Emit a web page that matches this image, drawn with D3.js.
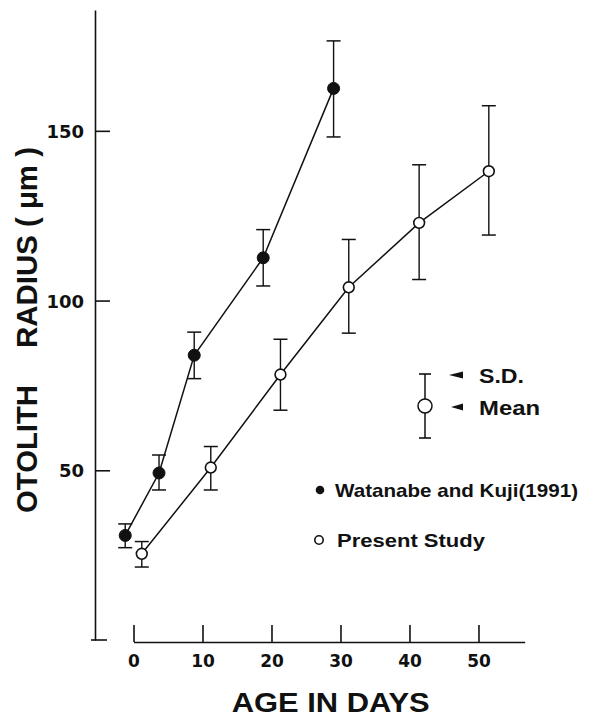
<!DOCTYPE html>
<html>
<head>
<meta charset="utf-8">
<script src="https://cdn.jsdelivr.net/npm/d3@7/dist/d3.min.js"></script>
<style>
  html, body { margin: 0; padding: 0; background: #fff; }
  svg { display: block; }
  text { fill: #111; }
</style>
</head>
<body>
<svg id="chart" width="594" height="721"></svg>
<script>
// ---- Data ----
const wkDays  = [-1.2, 3.7, 8.8, 18.8, 29.0];
const wkMean  = [30.8, 49.2, 83.9, 112.6, 162.5];
const wkUpper = [34.2, 54.5, 90.7, 120.9, 176.5];
const wkLower = [27.2, 44.2, 77.0, 104.3, 148.2];

const psDays  = [1.2, 11.2, 21.3, 31.2, 41.4, 51.5];
const psMean  = [25.4, 50.8, 78.2, 103.9, 122.9, 138.1];
const psUpper = [29.0, 57.0, 88.6, 118.0, 140.0, 157.4];
const psLower = [21.5, 44.2, 67.7, 90.4, 106.2, 119.3];

const xTicks = [0, 10, 20, 30, 40, 50];
const yTicks = [50, 100, 150];

const seriesLabels = ["Watanabe and Kuji(1991)", "Present Study"];
const xTitle = "AGE IN DAYS";
const yTitleA = "OTOLITH";
const yTitleB = "RADIUS ( \u03bcm )";

// ---- Build records ----
const wk = wkDays.map((d, i) => ({ day: d, mean: wkMean[i], hi: wkUpper[i], lo: wkLower[i] }));
const ps = psDays.map((d, i) => ({ day: d, mean: psMean[i], hi: psUpper[i], lo: psLower[i] }));

const svg = d3.select("#chart");
const sansBold = "'Liberation Sans', Arial, Helvetica, sans-serif";
const numFont = "'DejaVu Sans', 'Liberation Sans', sans-serif";

const x = d3.scaleLinear().domain([0, 56.7]).range([133.5, 524.7]);
const y = d3.scaleLinear().domain([0, 185.6]).range([640, 10]);

const yAxisX = 95;
const xAxisY = 642;

// ---- Y axis (ticks pointing inward) ----
const yAxis = d3.axisLeft(y).tickValues(yTicks).tickSizeInner(-15).tickSizeOuter(0).tickPadding(11);
const gy = svg.append("g").attr("transform", `translate(${yAxisX},0)`).call(yAxis);
gy.select(".domain").attr("stroke", "#111").attr("stroke-width", 1.6);
gy.selectAll(".tick line").attr("stroke", "#111").attr("stroke-width", 1.6);
gy.selectAll(".tick text")
  .attr("font-family", numFont).attr("font-weight", "bold").attr("font-size", 18)
  .attr("fill", "#111").attr("dy", "0.36em");
// foot at bottom of y axis
svg.append("line").attr("x1", yAxisX - 4).attr("x2", yAxisX + 12)
  .attr("y1", y(0)).attr("y2", y(0)).attr("stroke", "#111").attr("stroke-width", 1.6);

// ---- X axis (ticks pointing up) ----
const xAxis = d3.axisBottom(x).tickValues(xTicks).tickSizeInner(-17).tickSizeOuter(0).tickPadding(13);
const gx = svg.append("g").attr("transform", `translate(0,${xAxisY})`).call(xAxis);
gx.select(".domain").attr("stroke", "#111").attr("stroke-width", 1.6);
gx.selectAll(".tick line").attr("stroke", "#111").attr("stroke-width", 1.6);
gx.selectAll(".tick text")
  .attr("font-family", numFont).attr("font-weight", "bold").attr("font-size", 17)
  .attr("fill", "#111");

// ---- Axis titles ----
svg.append("text").text(xTitle)
  .attr("x", 231.7).attr("y", 712)
  .attr("font-family", sansBold).attr("font-weight", "bold").attr("font-size", 27)
  .attr("textLength", 198).attr("lengthAdjust", "spacingAndGlyphs");

svg.append("text").text(yTitleA)
  .attr("transform", "translate(37,513) rotate(-90)")
  .attr("font-family", sansBold).attr("font-weight", "bold").attr("font-size", 30)
  .attr("textLength", 128).attr("lengthAdjust", "spacingAndGlyphs");
svg.append("text").text(yTitleB)
  .attr("transform", "translate(37,348) rotate(-90)")
  .attr("font-family", sansBold).attr("font-weight", "bold").attr("font-size", 30)
  .attr("textLength", 201).attr("lengthAdjust", "spacingAndGlyphs");

// ---- Series ----
const line = d3.line().x(d => x(d.day)).y(d => y(d.mean));
const capW = 7;

function drawSeries(data, filled) {
  const g = svg.append("g");
  g.append("path").datum(data).attr("d", line)
    .attr("fill", "none").attr("stroke", "#111").attr("stroke-width", 1.5);
  const eb = g.selectAll(".eb").data(data).enter().append("g");
  eb.append("line").attr("x1", d => x(d.day)).attr("x2", d => x(d.day))
    .attr("y1", d => y(d.hi)).attr("y2", d => y(d.lo))
    .attr("stroke", "#111").attr("stroke-width", 1.4);
  eb.append("line").attr("x1", d => x(d.day) - capW).attr("x2", d => x(d.day) + capW)
    .attr("y1", d => y(d.hi)).attr("y2", d => y(d.hi))
    .attr("stroke", "#111").attr("stroke-width", 1.5);
  eb.append("line").attr("x1", d => x(d.day) - capW).attr("x2", d => x(d.day) + capW)
    .attr("y1", d => y(d.lo)).attr("y2", d => y(d.lo))
    .attr("stroke", "#111").attr("stroke-width", 1.5);
  g.selectAll(".pt").data(data).enter().append("circle")
    .attr("cx", d => x(d.day)).attr("cy", d => y(d.mean))
    .attr("r", filled ? 6 : 5.4)
    .attr("fill", filled ? "#111" : "#fff")
    .attr("stroke", "#111").attr("stroke-width", filled ? 1 : 1.6);
}
drawSeries(wk, true);
drawSeries(ps, false);

// ---- Legend: S.D. / Mean key ----
const lg = svg.append("g");
const kx = 425, kTop = 374, kBot = 438, kMid = 406;
lg.append("line").attr("x1", kx).attr("x2", kx).attr("y1", kTop).attr("y2", kBot)
  .attr("stroke", "#111").attr("stroke-width", 1.5);
[kTop, kBot].forEach(v => lg.append("line").attr("x1", kx - 6).attr("x2", kx + 6)
  .attr("y1", v).attr("y2", v).attr("stroke", "#111").attr("stroke-width", 1.6));
lg.append("circle").attr("cx", kx).attr("cy", kMid).attr("r", 7)
  .attr("fill", "#fff").attr("stroke", "#111").attr("stroke-width", 1.5);
[[449, 375], [451, 407]].forEach(([ax, ay]) => lg.append("path")
  .attr("d", `M${ax},${ay} L${463},${ay - 3.5} L${463},${ay + 3.5} Z`).attr("fill", "#111"));
lg.append("text").text("S.D.").attr("x", 479).attr("y", 383)
  .attr("font-family", sansBold).attr("font-weight", "bold").attr("font-size", 21)
  .attr("textLength", 45).attr("lengthAdjust", "spacingAndGlyphs");
lg.append("text").text("Mean").attr("x", 479).attr("y", 415)
  .attr("font-family", sansBold).attr("font-weight", "bold").attr("font-size", 21)
  .attr("textLength", 61).attr("lengthAdjust", "spacingAndGlyphs");

// ---- Legend: series ----
lg.append("circle").attr("cx", 320).attr("cy", 490).attr("r", 4.3).attr("fill", "#111");
lg.append("text").text(seriesLabels[0]).attr("x", 335).attr("y", 497)
  .attr("font-family", sansBold).attr("font-weight", "bold").attr("font-size", 19)
  .attr("textLength", 243).attr("lengthAdjust", "spacingAndGlyphs");
lg.append("circle").attr("cx", 319).attr("cy", 540).attr("r", 4.2)
  .attr("fill", "#fff").attr("stroke", "#111").attr("stroke-width", 1.6);
lg.append("text").text(seriesLabels[1]).attr("x", 337).attr("y", 547)
  .attr("font-family", sansBold).attr("font-weight", "bold").attr("font-size", 19)
  .attr("textLength", 148).attr("lengthAdjust", "spacingAndGlyphs");
</script>
</body>
</html>
